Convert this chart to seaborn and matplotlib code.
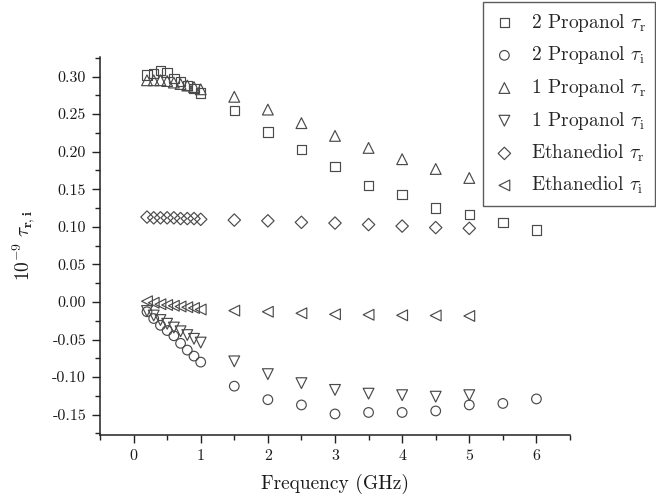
import numpy as np
import pandas as pd
import matplotlib
matplotlib.use("Agg")
import matplotlib.pyplot as plt
import seaborn as sns

# ---- data ----
freq_2p = [0.2, 0.3, 0.4, 0.5, 0.6, 0.7, 0.8, 0.9, 1.0, 1.5, 2.0, 2.5, 3.0, 3.5, 4.0, 4.5, 5.0, 5.5, 6.0]
p2_tau_r = [0.302, 0.304, 0.308, 0.305, 0.297, 0.293, 0.288, 0.284, 0.278,
            0.255, 0.226, 0.203, 0.180, 0.155, 0.143, 0.125, 0.116, 0.106, 0.096]
p2_tau_i = [-0.013, -0.022, -0.031, -0.038, -0.045, -0.055, -0.064, -0.072, -0.080,
            -0.112, -0.130, -0.137, -0.149, -0.147, -0.147, -0.145, -0.137, -0.135, -0.129]

freq_other = [0.2, 0.3, 0.4, 0.5, 0.6, 0.7, 0.8, 0.9, 1.0, 1.5, 2.0, 2.5, 3.0, 3.5, 4.0, 4.5, 5.0]
p1_tau_r = [0.295, 0.295, 0.295, 0.294, 0.292, 0.290, 0.288, 0.286, 0.283,
            0.273, 0.256, 0.238, 0.221, 0.205, 0.190, 0.177, 0.165]
p1_tau_i = [-0.012, -0.018, -0.024, -0.029, -0.034, -0.039, -0.044, -0.049, -0.054,
            -0.079, -0.096, -0.108, -0.117, -0.122, -0.124, -0.126, -0.124]
eth_tau_r = [0.113, 0.112, 0.112, 0.112, 0.112, 0.111, 0.111, 0.111, 0.110,
             0.109, 0.108, 0.106, 0.105, 0.103, 0.101, 0.099, 0.098]
eth_tau_i = [0.001, -0.001, -0.003, -0.004, -0.005, -0.006, -0.007, -0.008, -0.010,
             -0.0115, -0.013, -0.015, -0.0164, -0.017, -0.0177, -0.018, -0.0186]

x_ticks = [0, 1, 2, 3, 4, 5, 6]
y_ticks = [-0.15, -0.10, -0.05, 0.0, 0.05, 0.10, 0.15, 0.20, 0.25, 0.30]
y_tick_labels = ["-0.15", "-0.10", "-0.05", "0.00", "0.05", "0.10",
                 "0.15", "0.20", "0.25", "0.30"]

labels = [r"2 Propanol $\tau_\mathrm{r}$", r"2 Propanol $\tau_\mathrm{i}$",
          r"1 Propanol $\tau_\mathrm{r}$", r"1 Propanol $\tau_\mathrm{i}$",
          r"Ethanediol $\tau_\mathrm{r}$", r"Ethanediol $\tau_\mathrm{i}$"]
markers = ["s", "o", "^", "v", "D", "<"]
sizes = [45, 48, 60, 60, 40, 60]
series = [(freq_2p, p2_tau_r), (freq_2p, p2_tau_i), (freq_other, p1_tau_r),
          (freq_other, p1_tau_i), (freq_other, eth_tau_r), (freq_other, eth_tau_i)]

sns.set_style("ticks")
plt.rcParams["font.family"] = ["cmr10", "DejaVu Serif"]
plt.rcParams["mathtext.fontset"] = "cm"
plt.rcParams["axes.unicode_minus"] = False
plt.rcParams["axes.formatter.use_mathtext"] = False

fig = plt.figure(figsize=(6.56, 4.95), dpi=100)
ax = fig.add_axes([100 / 656, 60 / 495, 470 / 656, 378 / 495])

ec = "#4a4a4a"
for (x, y), lab, m, s in zip(series, labels, markers, sizes):
    df = pd.DataFrame({"f": x, "v": y})
    sns.scatterplot(data=df, x="f", y="v", marker=m, s=s, color=ec,
                    facecolor="none", edgecolor=ec, linewidth=0.85,
                    label=lab, ax=ax, legend=False)

ax.set_xlim(-0.5, 6.5)
ax.set_ylim(-0.177, 0.326)
ax.set_xticks(x_ticks)
ax.set_xticks(np.arange(-0.5, 6.51, 0.5), minor=True)
ax.set_yticks(y_ticks)
ax.set_yticks(np.arange(-0.175, 0.326, 0.025), minor=True)
ax.set_yticklabels(y_tick_labels)
ax.tick_params(axis="both", which="major", direction="out", length=6, width=1.0,
               labelsize=11.5, color="#222222", labelcolor="#1a1a1a", pad=4)
ax.tick_params(axis="both", which="minor", direction="out", length=3.5, width=1.0,
               color="#222222")
for side in ["top", "right"]:
    ax.spines[side].set_visible(False)
for side in ["left", "bottom"]:
    ax.spines[side].set_linewidth(1.1)
    ax.spines[side].set_color("#222222")

ax.set_xlabel("Frequency (GHz)", fontsize=14, color="#1a1a1a", labelpad=8)
ax.set_ylabel(r"$\mathbf{10^{-9}}\ \mathbf{\tau_{r,i}}$", fontsize=14,
              color="#1a1a1a", labelpad=10)

handles, labs = ax.get_legend_handles_labels()
leg = fig.legend(handles, labs, loc="upper left", bbox_to_anchor=(483 / 656, 1 - 2 / 495),
                 fontsize=14, frameon=True, fancybox=False, edgecolor="#333333",
                 borderpad=0.5, labelspacing=0.55, handletextpad=0.75,
                 handlelength=1.2, borderaxespad=0)
leg.get_frame().set_linewidth(1.0)

fig.savefig("out.png", dpi=100)
